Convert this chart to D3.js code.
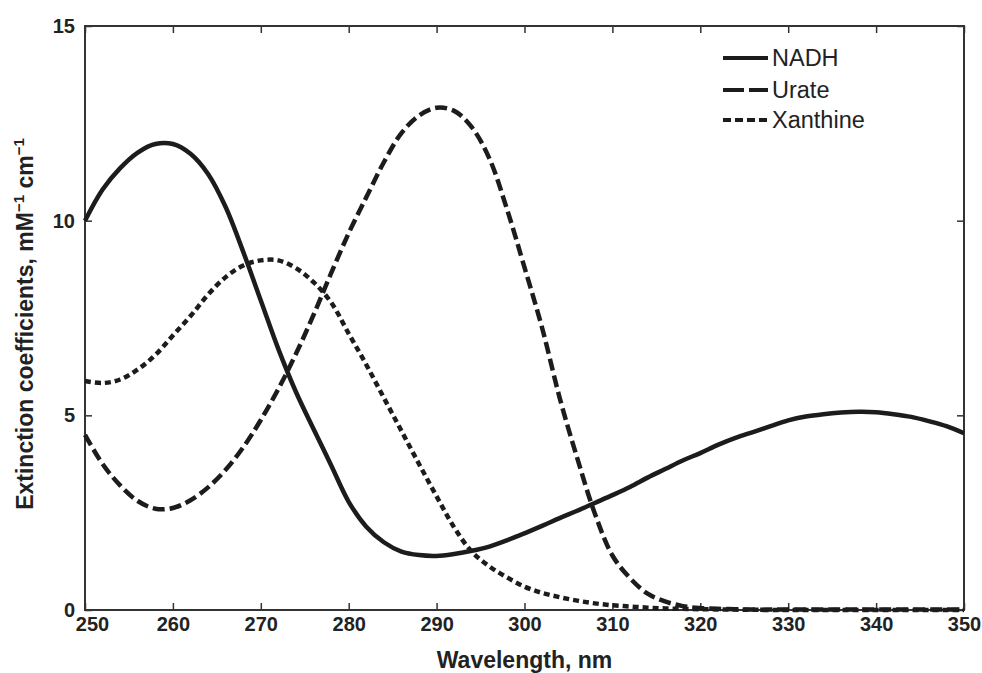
<!DOCTYPE html>
<html>
<head>
<meta charset="utf-8">
<script src="https://cdn.jsdelivr.net/npm/d3@7"></script>
<style>
  body { margin: 0; background: #fff; }
  svg { display: block; font-family: Arial, "Liberation Sans", sans-serif; }
</style>
</head>
<body>
<div id="container"></div>
<script>
/* CONSTANTS AND GLOBALS */
const width = 982;
const height = 673;
const margin = { top: 26, bottom: 63, left: 85, right: 18 };

/* DATA */
const wavelengths = d3.range(250, 351, 2);

const nadh = [10.0, 10.8, 11.35, 11.75, 11.97, 11.97, 11.72, 11.2, 10.35, 9.2,
  7.95, 6.7, 5.6, 4.65, 3.72, 2.78, 2.14, 1.74, 1.5, 1.41,
  1.39, 1.44, 1.52, 1.63, 1.79, 1.97, 2.16, 2.36, 2.55, 2.75,
  2.95, 3.16, 3.40, 3.62, 3.84, 4.03, 4.24, 4.42, 4.57, 4.72,
  4.87, 4.97, 5.03, 5.07, 5.09, 5.08, 5.03, 4.96, 4.85, 4.72, 4.54];

const urate = [4.5, 3.75, 3.2, 2.8, 2.6, 2.62, 2.82, 3.15, 3.6, 4.18,
  4.88, 5.68, 6.58, 7.58, 8.65, 9.68, 10.6, 11.5, 12.25, 12.7,
  12.9, 12.82, 12.4, 11.6, 10.3, 8.8, 7.25, 5.45, 3.9, 2.48,
  1.4, 0.82, 0.42, 0.22, 0.1, 0.05, 0.03, 0.02, 0.01, 0.01,
  0.01, 0.01, 0.01, 0.01, 0.01, 0.01, 0.01, 0.01, 0.01, 0.01, 0.01];

const xanthine = [5.88, 5.83, 5.92, 6.18, 6.55, 7.05, 7.55, 8.1, 8.55, 8.85,
  8.98, 8.98, 8.78, 8.42, 7.9, 7.1, 6.3, 5.45, 4.6, 3.75,
  2.92, 2.12, 1.5, 1.12, 0.84, 0.6, 0.44, 0.33, 0.24, 0.17,
  0.12, 0.09, 0.06, 0.04, 0.03, 0.02, 0.015, 0.01, 0.005, 0,
  0, 0, 0, 0, 0, 0, 0, 0, 0, 0, 0];

const seriesNames = ["NADH", "Urate", "Xanthine"];
const seriesValues = [nadh, urate, xanthine];
const xTicks = d3.range(250, 351, 10);
const yTicks = [0, 5, 10, 15];

const dashes = { NADH: null, Urate: "12,5", Xanthine: "6,4" };
const legendDashes = { NADH: null, Urate: "21,5", Xanthine: "8,4" };
const ink = "#1c1c1c";

/* SCALES */
const xScale = d3.scaleLinear()
  .domain([250, 350])
  .range([margin.left, width - margin.right]);

const yScale = d3.scaleLinear()
  .domain([0, 15])
  .range([height - margin.bottom, margin.top]);

/* HTML ELEMENTS */
const svg = d3.select("#container")
  .append("svg")
  .attr("width", width)
  .attr("height", height);

// axes, ticks point inward
const xAxis = svg.append("g")
  .attr("transform", `translate(0,${height - margin.bottom})`)
  .call(d3.axisBottom(xScale).tickValues(xTicks).tickSize(-7).tickPadding(7).tickSizeOuter(0));

svg.append("g")
  .attr("transform", `translate(0,${margin.top})`)
  .call(d3.axisTop(xScale).tickValues(xTicks).tickSize(-7).tickFormat("").tickSizeOuter(0));

svg.append("g")
  .attr("transform", `translate(${margin.left},0)`)
  .call(d3.axisLeft(yScale).tickValues(yTicks).tickSize(-7).tickPadding(10).tickSizeOuter(0));

svg.append("g")
  .attr("transform", `translate(${width - margin.right},0)`)
  .call(d3.axisRight(yScale).tickValues(yTicks).tickSize(-7).tickFormat("").tickSizeOuter(0));

svg.selectAll(".domain").remove();
svg.selectAll(".tick line").attr("stroke", "#333").attr("stroke-width", 1.5);
svg.selectAll(".tick text")
  .attr("fill", "#222")
  .style("font-size", "20px")
  .style("font-weight", "bold");

// nudge first x label away from the 0
xAxis.selectAll(".tick text").filter(d => d === 250).attr("dx", 7);

// frame
svg.append("rect")
  .attr("x", margin.left)
  .attr("y", margin.top)
  .attr("width", width - margin.left - margin.right)
  .attr("height", height - margin.top - margin.bottom)
  .attr("fill", "none")
  .attr("stroke", "#333")
  .attr("stroke-width", 2);

// lines
const line = d3.line()
  .x((d, i) => xScale(wavelengths[i]))
  .y(d => yScale(d))
  .curve(d3.curveCatmullRom.alpha(0.5));

svg.selectAll("path.series")
  .data(seriesNames)
  .join("path")
  .attr("class", "series")
  .attr("d", (d, i) => line(seriesValues[i]))
  .attr("fill", "none")
  .attr("stroke", ink)
  .attr("stroke-width", 4.5)
  .attr("stroke-dasharray", d => dashes[d]);

// legend
const legend = svg.append("g");
const legendY = [58, 90, 120];

legend.selectAll("line")
  .data(seriesNames)
  .join("line")
  .attr("x1", 723)
  .attr("x2", 768)
  .attr("y1", (d, i) => legendY[i])
  .attr("y2", (d, i) => legendY[i])
  .attr("stroke", ink)
  .attr("stroke-width", 4)
  .attr("stroke-dasharray", d => legendDashes[d]);

legend.selectAll("text")
  .data(seriesNames)
  .join("text")
  .attr("x", 772)
  .attr("y", (d, i) => legendY[i] + 8)
  .attr("fill", "#222")
  .style("font-size", "23.5px")
  .text(d => d);

// axis titles
svg.append("text")
  .attr("x", (margin.left + width - margin.right) / 2)
  .attr("y", 668)
  .attr("text-anchor", "middle")
  .attr("fill", "#222")
  .style("font-size", "23px")
  .style("font-weight", "bold")
  .text("Wavelength, nm");

const yTitle = svg.append("text")
  .attr("transform", `translate(33,${(margin.top + height - margin.bottom) / 2 + 6}) rotate(-90)`)
  .attr("text-anchor", "middle")
  .attr("fill", "#222")
  .style("font-size", "23px")
  .style("font-weight", "bold");

yTitle.append("tspan").text("Extinction coefficients, mM");
yTitle.append("tspan").attr("dy", -9).style("font-size", "15px").text("\u22121");
yTitle.append("tspan").attr("dy", 9).text(" cm");
yTitle.append("tspan").attr("dy", -9).style("font-size", "15px").text("\u22121");
</script>
</body>
</html>
